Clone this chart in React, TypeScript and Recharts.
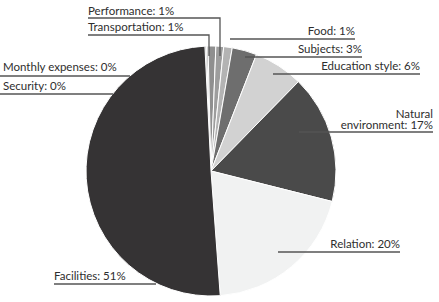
import { Cell, Pie, PieChart } from 'recharts'

const categories = [
  'Monthly expenses',
  'Security',
  'Transportation',
  'Performance',
  'Food',
  'Subjects',
  'Education style',
  'Natural environment',
  'Relation',
  'Facilities',
]
const shares = [0.2, 0.2, 1.0, 1.0, 1.1, 3.2, 6.4, 16.6, 19.9, 50.4]
const percentLabels = ['0%', '0%', '1%', '1%', '1%', '3%', '6%', '17%', '20%', '51%']

const COLORS = ['#8c8c8c', '#8c8c8c', '#8f8f8f', '#9d9d9d', '#b3b3b3', '#6e6e6e', '#d2d2d2', '#4a4a4a', '#f1f2f2', '#353334']

// label placement: text anchor point + underline / leader polyline
type LabelPos = { x: number; y: number; anchor: 'start' | 'end'; lines?: string[]; path: number[][] }
const LABELS: LabelPos[] = [
  { x: 3, y: 71, anchor: 'start', path: [[0, 76], [130, 76]] },
  { x: 3, y: 90, anchor: 'start', path: [[0, 94], [113, 94]] },
  { x: 88, y: 31, anchor: 'start', path: [[88, 35], [209, 35], [209, 56]] },
  { x: 88, y: 15, anchor: 'start', path: [[88, 18], [220, 18], [220, 56]] },
  { x: 355, y: 35, anchor: 'end', path: [[230, 39], [355, 39]] },
  { x: 362, y: 53, anchor: 'end', path: [[245, 57], [362, 57]] },
  { x: 420, y: 70, anchor: 'end', path: [[273, 74], [420, 74]] },
  { x: 433, y: 129, anchor: 'end', lines: ['Natural', 'environment: 17%'], path: [[299, 132], [433, 132]] },
  { x: 400, y: 248, anchor: 'end', path: [[278, 252], [400, 252]] },
  { x: 54, y: 280, anchor: 'start', path: [[54, 284], [156, 284]] },
]

const data = categories.map((name, i) => ({ name, value: shares[i] }))

function renderLabel(props: any) {
  const i = props.index
  const pos = LABELS[i]
  const text = `${categories[i]}: ${percentLabels[i]}`
  const lines = pos.lines ?? [text]
  return (
    <g key={`lbl-${i}`}>
      <polyline
        points={pos.path.map((p) => p.join(',')).join(' ')}
        fill="none"
        stroke="#555"
        strokeWidth={1.3}
      />
      <text
        x={pos.x}
        y={pos.y - (lines.length - 1) * 11.5}
        textAnchor={pos.anchor}
        fontFamily="Lato, 'Open Sans', sans-serif"
        fontSize={11.5}
        fill="#2e2e2e"
      >
        {lines.map((l, k) => (
          <tspan key={k} x={pos.x} dy={k === 0 ? 0 : 11.5}>
            {l}
          </tspan>
        ))}
      </text>
    </g>
  )
}

export default function App() {
  return (
    <div style={{ position: 'absolute', left: 0, top: 0, width: 439, height: 302, background: '#fff' }}>
      <PieChart width={439} height={302} margin={{ top: 0, right: 0, bottom: 0, left: 0 }}>
        <Pie
          data={data}
          dataKey="value"
          nameKey="name"
          cx={211}
          cy={171}
          outerRadius={125}
          startAngle={92.8}
          endAngle={-267.2}
          stroke="#fff"
          strokeWidth={1}
          label={renderLabel}
          labelLine={false}
          isAnimationActive={false}
        >
          {data.map((_, i) => (
            <Cell key={i} fill={COLORS[i]} />
          ))}
        </Pie>
      </PieChart>
    </div>
  )
}
